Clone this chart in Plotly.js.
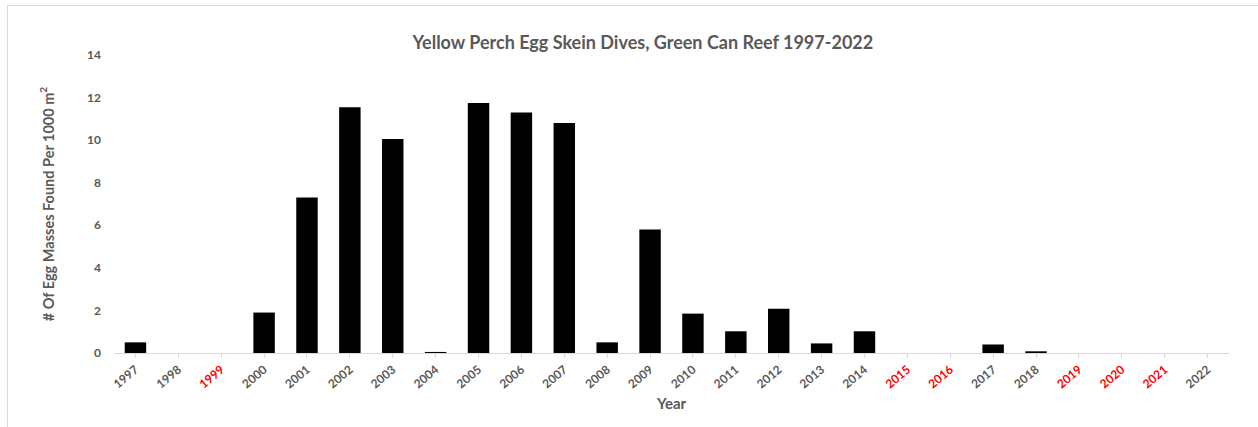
<!DOCTYPE html>
<html>
<head>
<meta charset="utf-8">
<script src="https://cdn.plot.ly/plotly-3.0.1.min.js"></script>
<style>
  html, body { margin: 0; padding: 0; background: #fff; }
  #frame { position: absolute; left: 7px; top: 5px; width: 1260px; height: 430px; border-left: 1px solid #d9d9d9; border-top: 1px solid #d9d9d9; }
  #chart { position: absolute; left: 0; top: 0; width: 1258px; height: 427px; }
</style>
</head>
<body>
<div id="frame"></div>
<div id="chart"></div>
<script>
const years = ['1997','1998','1999','2000','2001','2002','2003','2004','2005','2006','2007','2008','2009',
               '2010','2011','2012','2013','2014','2015','2016','2017','2018','2019','2020','2021','2022'];
const eggMasses = [0.5, 0, null, 1.9, 7.3, 11.55, 10.05, 0.05, 11.75, 11.3, 10.8, 0.5, 5.8,
                   1.85, 1.02, 2.08, 0.45, 1.02, null, null, 0.4, 0.08, null, null, null, 0];
const noDiveYears = ['1999','2015','2016','2019','2020','2021'];
const yTicks = [0, 2, 4, 6, 8, 10, 12, 14];

const tickText = years.map(y => noDiveYears.includes(y)
  ? '<span style="color:#ff0000">' + y + '</span>' : y);

const trace = {
  type: 'bar',
  x: years,
  y: eggMasses,
  marker: { color: '#000000', line: { width: 0 } },
  hoverinfo: 'x+y'
};

const fam = 'Lato, "Open Sans", sans-serif';

const layout = {
  width: 1258, height: 427,
  paper_bgcolor: 'rgba(0,0,0,0)',
  plot_bgcolor: 'rgba(0,0,0,0)',
  margin: { l: 114, r: 29, t: 55, b: 74 },
  font: { family: fam, color: '#595959' },
  title: {
    text: '<b>Yellow Perch Egg Skein Dives, Green Can Reef 1997-2022</b>',
    font: { size: 18, color: '#595959', family: fam },
    x: 0.511, xanchor: 'center', y: 0.9, yanchor: 'middle'
  },
  bargap: 0.5,
  showlegend: false,
  xaxis: {
    type: 'category',
    tickmode: 'array',
    tickvals: years,
    ticktext: tickText,
    tickangle: -40,
    tickfont: { size: 12, color: '#595959', family: fam, weight: 'bold' },
    showline: true, linecolor: '#d9d9d9', linewidth: 1,
    ticks: 'outside', ticklen: 4, tickcolor: '#d9d9d9',
    showgrid: false, zeroline: false,
    title: { text: '<b>Year</b>', font: { size: 15, color: '#595959', family: fam }, standoff: 8 }
  },
  yaxis: {
    range: [0, 14],
    tickmode: 'array',
    tickvals: yTicks,
    tickfont: { size: 12, color: '#595959', family: fam, weight: 'bold' },
    showgrid: false, zeroline: false, showline: false,
    ticks: '', ticklabelstandoff: 12,
    title: { text: '<b># Of Egg Masses Found Per 1000 m<sup>2</sup></b>', font: { size: 14.5, color: '#595959', family: fam }, standoff: 29 }
  }
};

Plotly.newPlot('chart', [trace], layout, { displayModeBar: false, staticPlot: true });
</script>
</body>
</html>
